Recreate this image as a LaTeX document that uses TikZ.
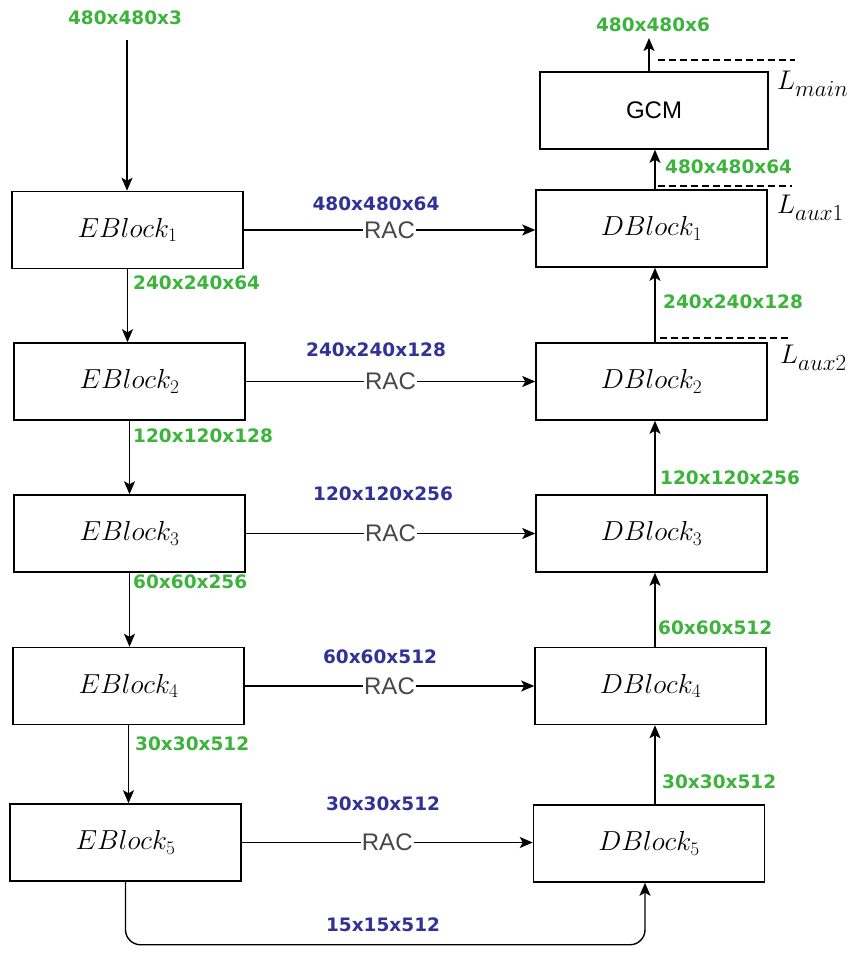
\RequirePackage{fix-cm}
\documentclass[tikz,border=0pt]{standalone}
\usepackage{fontspec}
\newfontfamily\labfont{DejaVu Sans}
\newfontfamily\arialfont{Liberation Sans}
\usetikzlibrary{arrows.meta}
\definecolor{lgreen}{RGB}{60,180,60}
\definecolor{lblue}{RGB}{50,50,150}
\newcommand{\losslab}[2]{$#1$\raisebox{-7pt}{\fontsize{23}{25}\selectfont$#2$}}
\begin{document}
\begin{tikzpicture}[x=1pt,y=-1pt,
  blk/.style={draw, line width=1.5pt, minimum width=231pt, minimum height=77pt, inner sep=0pt, font=\fontsize{27.5}{30}\selectfont},
  gcmbox/.style={draw, line width=1.5pt, minimum width=228pt, minimum height=77pt, inner sep=0pt, font=\arialfont\fontsize{24}{26}\selectfont},
  arr/.style={line width=1.4pt, -{Stealth[length=13pt,width=11pt,inset=3pt]}},
  glab/.style={font=\labfont\bfseries\fontsize{18.5}{20}\selectfont, text=lgreen, inner sep=0pt},
  blab/.style={font=\labfont\bfseries\fontsize{18.5}{20}\selectfont, text=lblue, inner sep=0pt},
  rac/.style={fill=white, font=\arialfont\fontsize{24}{26}\selectfont, text=black!72, inner sep=1pt},
  dline/.style={line width=1.1pt, dash pattern=on 7pt off 4pt},
  lossl/.style={anchor=west, inner sep=0pt, font=\fontsize{27}{29}\selectfont}
]
\useasboundingbox (0,0) rectangle (854,961);
\fill[white] (0,0) rectangle (854,961);

% encoder blocks
\node[blk] (E1) at (127.5,230) {$EBlock_1$};
\node[blk] (E2) at (129.5,381.5) {$EBlock_2$};
\node[blk] (E3) at (129.5,533.5) {$EBlock_3$};
\node[blk] (E4) at (128.5,686) {$EBlock_4$};
\node[blk] (E5) at (125.5,842.5) {$EBlock_5$};

% decoder blocks
\node[gcmbox] (G) at (654,110.5) {GCM};
\node[blk] (D1) at (651.5,228.5) {$DBlock_1$};
\node[blk] (D2) at (651.5,381.5) {$DBlock_2$};
\node[blk] (D3) at (651.5,533.5) {$DBlock_3$};
\node[blk] (D4) at (650.5,686) {$DBlock_4$};
\node[blk] (D5) at (649,843.5) {$DBlock_5$};

% input
\node[glab] (inl) at (125,18) {480x480x3};
\coordinate (intop) at (127,40);
\draw[arr] (intop) -- (intop |- E1.north);

% encoder vertical arrows
\draw[arr] (E1.south) -- (E1.south |- E2.north);
\draw[arr] (E2.south) -- (E2.south |- E3.north);
\draw[arr] (E3.south) -- (E3.south |- E4.north);
\draw[arr] (E4.south) -- (E4.south |- E5.north);
\node[glab, anchor=west] (l21) at (133,283) {240x240x64};
\node[glab, anchor=west] (l32) at (133,436) {120x120x128};
\node[glab, anchor=west] (l43) at (133,582) {60x60x256};
\node[glab, anchor=west] (l54) at (135,744) {30x30x512};

% skip connections
\draw[arr] (E1.east) -- (E1.east -| D1.west) node[rac, midway] (r1) {RAC};
\draw[arr] (E2.east) -- (E2.east -| D2.west) node[rac, midway] (r2) {RAC};
\draw[arr] (E3.east) -- (E3.east -| D3.west) node[rac, midway] (r3) {RAC};
\draw[arr] (E4.east) -- (E4.east -| D4.west) node[rac, midway] (r4) {RAC};
\draw[arr] (E5.east) -- (E5.east -| D5.west) node[rac, midway] (r5) {RAC};
\node[blab] (b1) at (376,204) {480x480x64};
\node[blab] (b2) at (376,350) {240x240x128};
\node[blab] (b3) at (383,494) {120x120x256};
\node[blab] (b4) at (380,657) {60x60x512};
\node[blab] (b5) at (383,804) {30x30x512};

% decoder vertical arrows
\coordinate (dx) at (655,0);
\draw[arr] (D5.north -| dx) -- (dx |- D4.south);
\draw[arr] (D4.north -| dx) -- (dx |- D3.south);
\draw[arr] (D3.north -| dx) -- (dx |- D2.south);
\draw[arr] (D2.north -| dx) -- (dx |- D1.south);
\draw[arr] (D1.north -| dx) -- (dx |- G.south);
\coordinate (outtop) at (649,38);
\draw[arr] (G.north -| outtop) -- (outtop);
\node[glab] (outl) at (653,25) {480x480x6};
\node[glab, anchor=west] (r01) at (665,167) {480x480x64};
\node[glab, anchor=west] (r12) at (663,302) {240x240x128};
\node[glab, anchor=west] (r23) at (660,478) {120x120x256};
\node[glab, anchor=west] (r34) at (658,628) {60x60x512};
\node[glab, anchor=west] (r45) at (662,782) {30x30x512};

% bottleneck
\coordinate (bx) at (645,0);
\draw[arr, rounded corners=15pt] (E5.south) -- ++(0,63) -| (bx |- D5.south);
\node[blab] (b6) at (383,925) {15x15x512};

% losses
\coordinate (m1) at (658,60); \coordinate (m2) at (795,60);
\coordinate (a1) at (658,186); \coordinate (a2) at (792,186);
\coordinate (c1) at (660,338); \coordinate (c2) at (790,338);
\draw[dline] (m1) -- (m2);
\draw[dline] (a1) -- (a2);
\draw[dline] (c1) -- (c2);
\node[lossl] (Lm) at (777,84) {\losslab{L}{main}};
\node[lossl] (La1) at (777,208) {\losslab{L}{aux1}};
\node[lossl] (La2) at (780,358) {\losslab{L}{aux2}};
\end{tikzpicture}
\end{document}
